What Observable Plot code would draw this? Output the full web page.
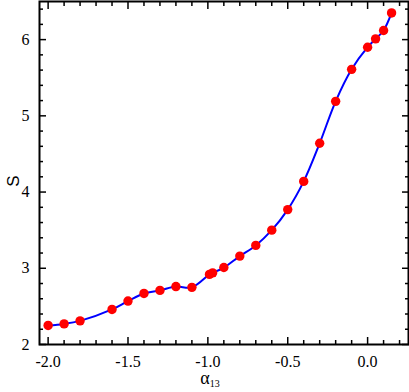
<!DOCTYPE html>
<html>
<head>
<meta charset="utf-8">
<script src="https://cdn.jsdelivr.net/npm/d3@7"></script>
<script src="https://cdn.jsdelivr.net/npm/@observablehq/plot@0.6"></script>
<style>
  body { margin: 0; background: #fff; }
  #chart svg { display: block; }
  #chart svg text { font-family: 'Liberation Serif', 'Times New Roman', serif; }
  #chart svg text.ylab { font-family: 'Liberation Sans', Arial, sans-serif; }
</style>
</head>
<body>
<div id="chart"></div>
<script>
const alpha13 = [-2.0, -1.9, -1.8, -1.6, -1.5, -1.4, -1.3, -1.2, -1.1, -0.99, -0.97, -0.9, -0.8, -0.7, -0.6, -0.5, -0.4, -0.3, -0.2, -0.1, 0.0, 0.05, 0.1, 0.15];
const S = [2.25, 2.27, 2.31, 2.46, 2.57, 2.67, 2.71, 2.76, 2.75, 2.92, 2.94, 3.01, 3.16, 3.30, 3.50, 3.77, 4.14, 4.64, 5.19, 5.61, 5.90, 6.01, 6.12, 6.35];
const xMajor = [-2.0, -1.5, -1.0, -0.5, 0.0];
const xMinor = [-1.9, -1.8, -1.7, -1.6, -1.4, -1.3, -1.2, -1.1, -0.9, -0.8, -0.7, -0.6, -0.4, -0.3, -0.2, -0.1, 0.1, 0.2];
const yMajor = [2, 3, 4, 5, 6];
const yMinor = [2.2, 2.4, 2.6, 2.8, 3.2, 3.4, 3.6, 3.8, 4.2, 4.4, 4.6, 4.8, 5.2, 5.4, 5.6, 5.8, 6.2, 6.4];

const data = alpha13.map((a, i) => ({a, s: S[i]}));
const serif = "'Liberation Serif', 'Times New Roman', serif";
const tk = {text: null, label: null, strokeWidth: 1.5, stroke: "#000"};

const chart = Plot.plot({
  width: 409,
  height: 392,
  marginLeft: 39,
  marginRight: 1,
  marginTop: 1,
  marginBottom: 48,
  style: {fontFamily: serif, fontSize: "16px", background: "#fff", color: "#000"},
  x: {domain: [-2.054, 0.256]},
  y: {domain: [2, 6.5]},
  marks: [
    Plot.line(data, {x: "a", y: "s", stroke: "#0000ff", strokeWidth: 2, curve: "catmull-rom"}),
    Plot.dot(data, {x: "a", y: "s", r: 4.7, fill: "#ff0000", stroke: "none"}),
    // inward ticks: outward ticks shifted back inside the frame
    Plot.axisX({...tk, anchor: "bottom", ticks: xMajor, tickSize: 7, dy: -7}),
    Plot.axisX({...tk, anchor: "top", ticks: xMajor, tickSize: 7, dy: 7}),
    Plot.axisX({...tk, anchor: "bottom", ticks: xMinor, tickSize: 4, dy: -4}),
    Plot.axisX({...tk, anchor: "top", ticks: xMinor, tickSize: 4, dy: 4}),
    Plot.axisY({...tk, anchor: "left", ticks: yMajor, tickSize: 7, dx: 7}),
    Plot.axisY({...tk, anchor: "right", ticks: yMajor, tickSize: 7, dx: -7}),
    Plot.axisY({...tk, anchor: "left", ticks: yMinor, tickSize: 4, dx: 4}),
    Plot.axisY({...tk, anchor: "right", ticks: yMinor, tickSize: 4, dx: -4}),
    // tick labels
    Plot.axisX({anchor: "bottom", ticks: xMajor, tickSize: 0, tickPadding: 11, label: null, tickFormat: d => d.toFixed(1), fontSize: 16, fontFamily: serif}),
    Plot.axisY({anchor: "left", ticks: yMajor, tickSize: 0, tickPadding: 10, label: null, tickFormat: d => String(d), fontSize: 16, fontFamily: serif}),
    Plot.frame({stroke: "#000", strokeWidth: 2})
  ]
});

const svg = d3.select(chart);
// x-axis label with subscript
const xl = svg.append("text")
  .attr("x", 210)
  .attr("y", 384)
  .attr("text-anchor", "middle")
  .attr("font-family", serif)
  .attr("fill", "#000");
xl.append("tspan").attr("font-size", 18).text("α");
xl.append("tspan").attr("font-size", 10).attr("dy", 3).text("13");
// y-axis label
svg.append("text")
  .attr("class", "ylab")
  .attr("transform", "translate(19,181) rotate(-90)")
  .attr("text-anchor", "middle")
  .attr("font-family", "'Liberation Sans', Arial, sans-serif")
  .attr("font-size", 17)
  .attr("fill", "#000")
  .text("S");

document.getElementById("chart").appendChild(chart);
</script>
</body>
</html>
